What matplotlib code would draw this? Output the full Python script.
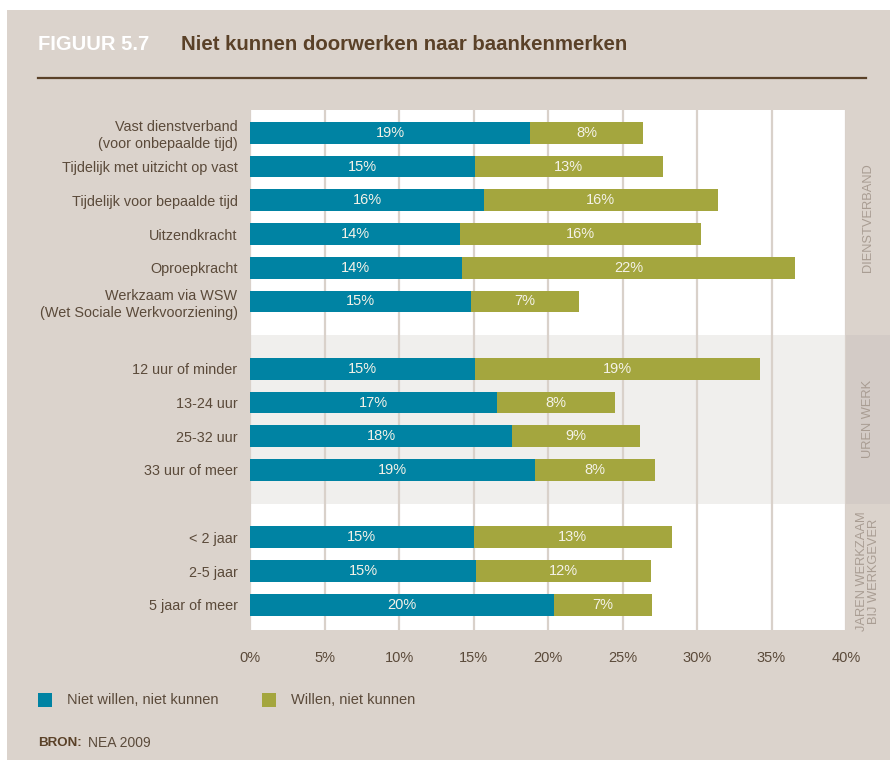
import matplotlib
matplotlib.use("Agg")
import matplotlib.pyplot as plt
from matplotlib.patches import Rectangle

plt.rcParams['font.family'] = ['Liberation Sans', 'DejaVu Sans']

# --- data -------------------------------------------------------------
group_names = ["DIENSTVERBAND", "UREN WERK", "JAREN WERKZAAM\nBIJ WERKGEVER"]
group_sizes = [6, 4, 3]
categories = [
    "Vast dienstverband\n(voor onbepaalde tijd)",
    "Tijdelijk met uitzicht op vast",
    "Tijdelijk voor bepaalde tijd",
    "Uitzendkracht",
    "Oproepkracht",
    "Werkzaam via WSW\n(Wet Sociale Werkvoorziening)",
    "12 uur of minder",
    "13-24 uur",
    "25-32 uur",
    "33 uur of meer",
    "< 2 jaar",
    "2-5 jaar",
    "5 jaar of meer",
]
niet_willen = [18.8, 15.1, 15.7, 14.1, 14.2, 14.8, 15.1, 16.6, 17.6, 19.1, 15.0, 15.2, 20.4]
willen = [7.6, 12.6, 15.7, 16.2, 22.4, 7.3, 19.1, 7.9, 8.6, 8.1, 13.3, 11.7, 6.6]
series_names = ["Niet willen, niet kunnen", "Willen, niet kunnen"]
x_ticks = [0, 5, 10, 15, 20, 25, 30, 35, 40]

# --- style ------------------------------------------------------------
BG = "#dbd3cc"
STRIP = "#d3cbc6"
BAND = "#f0efed"
GRID = "#d9d1ca"
BLUE = "#0083a3"
GREEN = "#a4a63e"
TXT = "#5b4a3a"
TITLE = "#5a4128"
GROUPTXT = "#a99d93"
BARTXT = "#f4f2e8"

W, H = 890, 760
fig = plt.figure(figsize=(W / 100, H / 100), dpi=100, facecolor="white")


def fx(px):
    return px / W


def fy(py):
    return 1 - py / H


# beige panel
fig.patches.append(Rectangle((fx(7), 0), 1 - fx(7), fy(10), transform=fig.transFigure,
                             facecolor=BG, edgecolor="none", zorder=-10))

# slot positions: one empty slot between groups
positions = []
group_spans = []
slot = 0
for size in group_sizes:
    group_spans.append((slot, slot + size - 1))
    positions.extend(range(slot, slot + size))
    slot += size + 1

ax = fig.add_axes([fx(250), fy(630), fx(846) - fx(250), fy(110) - fy(630)])
ax.set_facecolor("white")
ax.set_xlim(0, 40)
ax.set_ylim(14.75, -0.68)

# shaded middle group
mid_lo = (group_spans[0][1] + group_spans[1][0]) / 2
mid_hi = (group_spans[1][1] + group_spans[2][0]) / 2
ax.axhspan(mid_lo, mid_hi, color=BAND, zorder=0, lw=0)
ax.add_patch(Rectangle((1.0, mid_lo), (890 - 846) / (846 - 250), mid_hi - mid_lo,
                       transform=ax.get_yaxis_transform(), facecolor=STRIP,
                       edgecolor="none", clip_on=False, zorder=0))

ax.set_xticks(x_ticks)
ax.set_xticklabels([f"{t}%" for t in x_ticks])
ax.xaxis.grid(True, color=GRID, lw=1.6, zorder=1)
ax.set_axisbelow(True)

bh = 0.645
ax.barh(positions, niet_willen, height=bh, color=BLUE, zorder=3, label=series_names[0])
ax.barh(positions, willen, left=niet_willen, height=bh, color=GREEN, zorder=3,
        label=series_names[1])

for p, a, b in zip(positions, niet_willen, willen):
    ax.text(a / 2, p, f"{a:.0f}%", ha="center", va="center", color=BARTXT,
            fontsize=10.5, zorder=4)
    ax.text(a + b / 2, p, f"{b:.0f}%", ha="center", va="center", color=BARTXT,
            fontsize=10.5, zorder=4)

ax.set_yticks(positions)
ax.set_yticklabels(categories, fontsize=10.4, color=TXT, linespacing=1.25)
ax.tick_params(axis="y", length=0, pad=9)
ax.tick_params(axis="x", length=0, pad=15, labelsize=10.5, labelcolor=TXT)
for s in ax.spines.values():
    s.set_visible(False)

# group labels in the right strip
for name, (lo, hi) in zip(group_names, group_spans):
    ax.text(1.037, (lo + hi) / 2, name, transform=ax.get_yaxis_transform(),
            rotation=90, ha="center", va="center", color=GROUPTXT, fontsize=9.3,
            multialignment="center", linespacing=1.05)

# title and rule
fig.text(fx(38), fy(45), "FIGUUR 5.7", color="white", fontsize=14.5, fontweight="bold",
         va="center", ha="left")
fig.text(fx(181), fy(45), "Niet kunnen doorwerken naar baankenmerken", color=TITLE,
         fontsize=14.7, fontweight="bold", va="center", ha="left")
fig.add_artist(plt.Line2D([fx(38), fx(866)], [fy(78), fy(78)], color=TITLE, lw=1.6,
                          transform=fig.transFigure))

# legend
for x0, col, name in [(38, BLUE, series_names[0]), (262, GREEN, series_names[1])]:
    fig.patches.append(Rectangle((fx(x0), fy(707)), fx(14), 14 / H, transform=fig.transFigure,
                                 facecolor=col, edgecolor="none"))
    fig.text(fx(x0 + 29), fy(700), name, color=TXT, fontsize=10.5, va="center", ha="left")

# source
fig.text(fx(38), fy(743), "BRON:", color=TITLE, fontsize=9.6, fontweight="bold",
         va="center", ha="left")
fig.text(fx(88), fy(743), "NEA 2009", color=TXT, fontsize=10, va="center", ha="left")

fig.savefig("out.png", dpi=100, facecolor="white")
